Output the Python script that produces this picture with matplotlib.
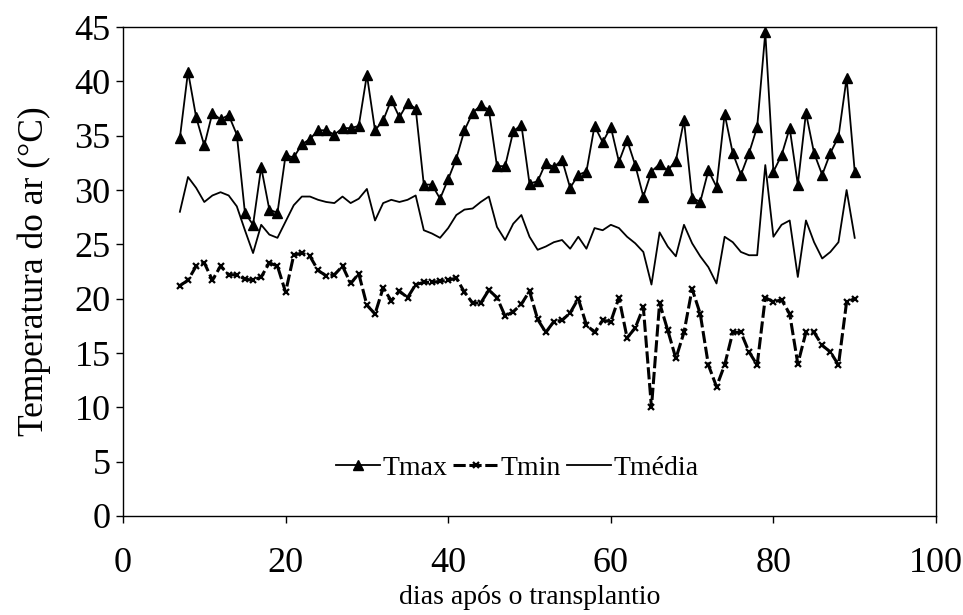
import matplotlib
matplotlib.use("Agg")
import matplotlib.pyplot as plt
import numpy as np

days = list(range(7, 91))

tmax = [34.8, 40.9, 36.7, 34.1, 37.1, 36.5, 36.9, 35.1, 27.9, 26.8,
        32.1, 28.2, 27.9, 33.2, 33.0, 34.2, 34.7, 35.5, 35.5, 35.1,
        35.7, 35.7, 35.9, 40.6, 35.5, 36.4, 38.3, 36.7, 38.0, 37.5,
        30.5, 30.5, 29.2, 31.0, 32.9, 35.5, 37.1, 37.8, 37.4, 32.2,
        32.2, 35.4, 36.0, 30.6, 30.8, 32.5, 32.1, 32.8, 30.2, 31.4,
        31.7, 35.9, 34.4, 35.8, 32.6, 34.6, 32.3, 29.4, 31.7, 32.4,
        31.8, 32.7, 36.4, 29.3, 28.9, 31.8, 30.3, 37.0, 33.4, 31.4,
        33.4, 35.8, 44.5, 31.7, 33.2, 35.7, 30.5, 37.1, 33.4, 31.4,
        33.4, 34.9, 40.3, 31.7]

tmin = [21.2, 21.7, 23.0, 23.3, 21.7, 23.0, 22.2, 22.2, 21.8, 21.7,
        22.0, 23.3, 23.0, 20.6, 24.0, 24.2, 23.9, 22.6, 22.1, 22.2,
        23.0, 21.4, 22.3, 19.4, 18.6, 21.0, 19.8, 20.7, 20.1, 21.3,
        21.5, 21.5, 21.6, 21.7, 21.9, 20.6, 19.6, 19.6, 20.8, 20.1,
        18.4, 18.8, 19.5, 20.7, 18.1, 16.9, 17.9, 18.0, 18.7, 20.0,
        17.6, 16.9, 18.0, 17.9, 20.1, 16.4, 17.3, 19.2, 10.0, 19.6,
        17.1, 14.5, 16.9, 20.9, 18.6, 13.9, 11.9, 13.9, 16.9, 16.9,
        15.1, 13.9, 20.1, 19.7, 19.9, 18.6, 14.0, 16.9, 16.9, 15.7,
        15.1, 13.9, 19.7, 20.0]

tmedia = [28.0, 31.2, 30.2, 28.9, 29.5, 29.8, 29.5, 28.5, 26.3, 24.2,
          26.8, 25.9, 25.6, 27.1, 28.6, 29.4, 29.4, 29.1, 28.9, 28.8,
          29.4, 28.8, 29.2, 30.1, 27.2, 28.8, 29.1, 28.9, 29.1, 29.5,
          26.3, 26.0, 25.6, 26.5, 27.7, 28.2, 28.3, 28.9, 29.4, 26.6,
          25.4, 26.9, 27.7, 25.7, 24.5, 24.8, 25.2, 25.4, 24.6, 25.7,
          24.6, 26.5, 26.3, 26.8, 26.5, 25.7, 25.1, 24.3, 21.3, 26.1,
          24.8, 23.9, 26.8, 25.1, 23.9, 22.9, 21.4, 25.7, 25.2, 24.3,
          24.0, 24.0, 32.3, 25.7, 26.8, 27.2, 22.0, 27.2, 25.2, 23.7,
          24.3, 25.2, 30.0, 25.6]

series_labels = ["Tmax", "Tmin", "Tmédia"]
x_ticks = [0, 20, 40, 60, 80, 100]
y_ticks = list(range(0, 50, 5))

plt.rcParams['font.family'] = ['Liberation Serif', 'DejaVu Serif']

fig = plt.figure(figsize=(9.63, 6.15), dpi=100)
ax = fig.add_axes([0.1277, 0.161, 0.8443, 0.795])

ax.plot(days, tmax, color='black', lw=1.3, marker='^', ms=6.5,
        label=series_labels[0])
ax.plot(days, tmin, color='black', lw=2.2, dashes=(4, 1.2), marker='x',
        ms=5, mew=1.6, label=series_labels[1])
ax.plot(days, tmedia, color='black', lw=1.3, label=series_labels[2])

ax.set_xlim(0, 100)
ax.set_ylim(0, 45)
ax.set_xticks(x_ticks)
ax.set_yticks(y_ticks)
ax.tick_params(axis='both', labelsize=26, direction='out', length=5,
               width=1)
ax.tick_params(axis='x', pad=17)
ax.tick_params(axis='y', pad=4)
for s in ax.spines.values():
    s.set_linewidth(1.0)

ax.set_xlabel("dias após o transplantio", fontsize=20, labelpad=4)
ax.set_ylabel("Temperatura do ar (°C)", fontsize=25.5, labelpad=17)

leg = ax.legend(loc='center', bbox_to_anchor=(0.485, 0.098), ncol=3,
                frameon=False, fontsize=20, handlelength=1.6,
                handletextpad=0.1, columnspacing=0.2, borderpad=0.2)

fig.savefig("out.png", dpi=100)
